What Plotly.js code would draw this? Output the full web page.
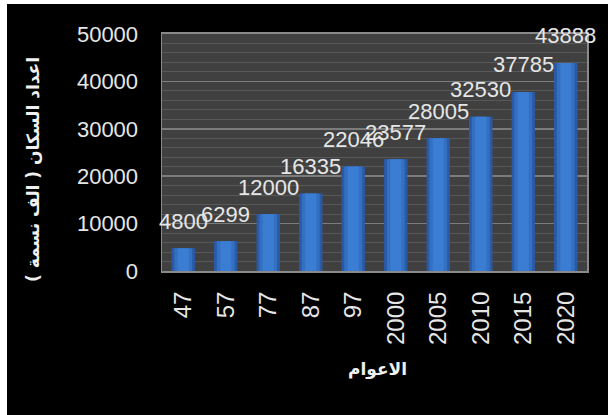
<!DOCTYPE html>
<html><head><meta charset="utf-8">
<script src="https://cdn.plot.ly/plotly-3.0.1.min.js"></script>
<style>
html,body{margin:0;padding:0;background:#ffffff;width:608px;height:415px;overflow:hidden}
#chart{position:absolute;left:7px;top:4px;width:601px;height:411px}
</style></head>
<body><div id="chart"></div>
<script>
const years = ["47","57","77","87","97","2000","2005","2010","2015","2020"];
const population = [4800,6299,12000,16335,22046,23577,28005,32530,37785,43888];
const yTicks = [0,10000,20000,30000,40000,50000];
const yTitle = "اعداد السكان ( الف نسمة )";
const xTitle = "الاعوام";

const numFont = "Liberation Sans, Arial, sans-serif";
const arFont = "DejaVu Sans, sans-serif";

const traces = [
  {type:'bar', x:years, y:population, width:0.55, marker:{color:'#2a5aa6', line:{width:0}}, hoverinfo:'none'},
  {type:'bar', x:years, y:population, width:0.42, marker:{color:'#3470c2', line:{width:0}}, hoverinfo:'none'},
  {type:'bar', x:years, y:population, width:0.26, marker:{color:'#3b7dd2', line:{width:0}}, hoverinfo:'none'}
];

const annotations = years.map((yr,i)=>({
  x:i, y:population[i], xref:'x', yref:'y', text:String(population[i]),
  showarrow:false, yanchor:'middle', xanchor:'center', yshift:27,
  font:{family:numFont, size:22, color:'#e6e6e6'}
}));
annotations.push({
  xref:'paper', yref:'paper', x:-0.3035, y:0.426, text:'<b>'+yTitle+'</b>', textangle:-90,
  showarrow:false, xanchor:'center', yanchor:'middle',
  font:{family:arFont, size:17, color:'#f0f0f0'}
});
annotations.push({
  xref:'paper', yref:'paper', x:0.508, y:-0.415, text:'<b>'+xTitle+'</b>',
  showarrow:false, xanchor:'center', yanchor:'middle',
  font:{family:arFont, size:17, color:'#f0f0f0'}
});

const layout = {
  width:601, height:411,
  margin:{l:155, r:21, t:30, b:144},
  paper_bgcolor:'#000000', plot_bgcolor:'#404040',
  barmode:'overlay', showlegend:false,
  xaxis:{type:'category', range:[-0.5, years.length-0.5], autorange:false, tickangle:-90, ticks:'', ticklabelstandoff:9,
    tickfont:{family:numFont, size:24, color:'#e6e6e6'},
    showline:true, linecolor:'#8a8a8a', linewidth:2, mirror:true, showgrid:false},
  yaxis:{range:[0,50000], autorange:false, tickvals:yTicks, ticktext:yTicks.map(String), ticks:'', ticklabelstandoff:18,
    tickfont:{family:numFont, size:22, color:'#e6e6e6'},
    showgrid:true, gridcolor:'#7c7c7c', gridwidth:1.5, zeroline:false,
    minor:{dtick:2000, showgrid:true, gridcolor:'#585858', gridwidth:1},
    showline:true, linecolor:'#8a8a8a', linewidth:1.5, mirror:true},
  annotations:annotations
};
Plotly.newPlot('chart', traces, layout, {displayModeBar:false, staticPlot:true});
</script></body></html>
